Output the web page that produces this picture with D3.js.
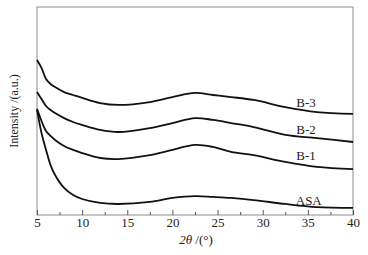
<!DOCTYPE html>
<html>
<head>
<meta charset="utf-8">
<script src="https://cdn.jsdelivr.net/npm/d3@7"></script>
<style>
  html, body { margin: 0; padding: 0; background: #fff; }
  svg { display: block; }
  svg text { font-family: "Liberation Serif", "Times New Roman", Times, serif; fill: #222; }
</style>
</head>
<body>
<div id="chart"></div>
<script>
// 2theta sampling positions (deg)
const twoTheta = [5, 5.5, 6, 6.5, 7, 8, 9, 10, 12, 14, 17.5, 20, 22.5, 24.5, 26.5, 29, 32.5, 36, 40];

// intensities (a.u.)
const b3 = [74.5, 70.7, 65.4, 63.0, 61.5, 59.1, 57.7, 56.3, 53.8, 52.9, 54.3, 56.7, 58.7, 57.7, 56.7, 55.3, 51.9, 49.5, 48.6];
const b2 = [59.1, 55.8, 52.4, 50.5, 49.0, 46.6, 44.7, 43.3, 40.9, 39.9, 41.8, 44.2, 46.6, 45.7, 44.2, 42.3, 38.5, 37.0, 35.1];
const b1 = [51.0, 45.2, 40.4, 38.0, 36.1, 33.2, 31.3, 29.8, 27.4, 26.9, 28.8, 31.3, 33.7, 32.7, 30.3, 28.8, 25.5, 23.1, 22.1];
const asa = [50.5, 39.4, 31.3, 24.0, 19.2, 13.0, 9.6, 7.7, 5.8, 5.3, 6.3, 8.2, 9.1, 8.7, 8.2, 7.2, 5.3, 3.8, 3.4];

const seriesNames = ['B-3', 'B-2', 'B-1', 'ASA'];
const seriesValues = [b3, b2, b1, asa];
const xTicks = [5, 10, 15, 20, 25, 30, 35, 40];

const W = 368, H = 255;
const MARGIN = { TOP: 7, RIGHT: 15, BOTTOM: 40, LEFT: 37 };
const innerW = W - MARGIN.LEFT - MARGIN.RIGHT;
const innerH = H - MARGIN.TOP - MARGIN.BOTTOM;
const FONT = '"Liberation Serif", "Times New Roman", Times, serif';

const svg = d3.select('#chart').append('svg')
  .attr('width', W).attr('height', H);

const g = svg.append('g').attr('transform', `translate(${MARGIN.LEFT},${MARGIN.TOP})`);

const x = d3.scaleLinear().domain([5, 40]).range([0, innerW]);
const y = d3.scaleLinear().domain([0, 100]).range([innerH, 0]);

// frame
g.append('rect')
  .attr('x', 0).attr('y', 0).attr('width', innerW).attr('height', innerH)
  .attr('fill', 'none').attr('stroke', '#8c8c8c').attr('stroke-width', 1);

// minor ticks (inward)
const minor = d3.range(7.5, 40, 5);
g.append('g')
  .attr('transform', `translate(0,${innerH})`)
  .call(d3.axisBottom(x).tickValues(minor).tickSizeInner(-3).tickSizeOuter(0).tickFormat(''))
  .call(s => s.select('.domain').remove())
  .call(s => s.selectAll('line').attr('stroke', '#555'));

// major ticks + labels
g.append('g')
  .attr('transform', `translate(0,${innerH})`)
  .call(d3.axisBottom(x).tickValues(xTicks).tickSizeInner(-5).tickSizeOuter(0).tickPadding(3).tickFormat(d3.format('d')))
  .call(s => s.select('.domain').remove())
  .call(s => s.attr('font-family', FONT))
  .call(s => s.selectAll('line').attr('stroke', '#555'))
  .call(s => s.selectAll('text').attr('font-size', 13).attr('fill', '#222'));

// curves
const line = d3.line()
  .x((d, i) => x(twoTheta[i]))
  .y(d => y(d))
  .curve(d3.curveCatmullRom.alpha(0.5));

g.selectAll('path.series')
  .data(seriesValues)
  .join('path')
  .attr('class', 'series')
  .attr('d', line)
  .attr('fill', 'none')
  .attr('stroke', '#111')
  .attr('stroke-width', 1.8)
  .attr('stroke-linejoin', 'round');

// series labels, placed in data units
const labelAt = { 'B-3': [34.8, 54.3], 'B-2': [34.8, 41.3], 'B-1': [34.8, 28.4], 'ASA': [35.1, 7.2] };
g.selectAll('text.lbl')
  .data(seriesNames)
  .join('text')
  .attr('class', 'lbl')
  .attr('x', d => x(labelAt[d][0]))
  .attr('y', d => y(labelAt[d][1]))
  .attr('dy', '0.35em')
  .attr('text-anchor', 'middle')
  .attr('font-size', 13)
  .text(d => d);

// axis titles
const xt = svg.append('text')
  .attr('x', MARGIN.LEFT + innerW / 2 + 1)
  .attr('y', 244)
  .attr('text-anchor', 'middle')
  .attr('font-size', 13);
xt.append('tspan').attr('font-style', 'italic').text('2θ');
xt.append('tspan').text(' /(°)');

svg.append('text')
  .attr('transform', `translate(18,${MARGIN.TOP + innerH / 2}) rotate(-90)`)
  .attr('text-anchor', 'middle')
  .attr('font-size', 12)
  .attr('fill', '#333')
  .text('Intensity /(a.u.)');
</script>
</body>
</html>
